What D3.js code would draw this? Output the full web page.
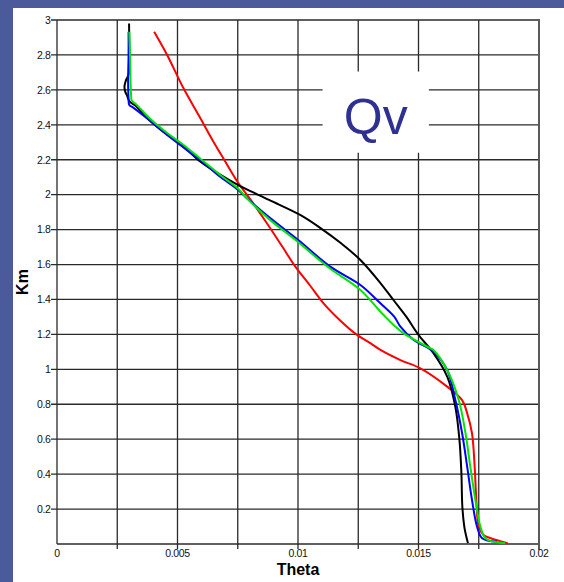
<!DOCTYPE html>
<html><head><meta charset="utf-8">
<script src="https://cdn.jsdelivr.net/npm/d3@7"></script>
<style>html,body{margin:0;padding:0;background:#4b5a9a;}svg{display:block;}</style>
</head><body>
<script>
// ---- data ----
const xTicks = [0, 0.005, 0.01, 0.015, 0.02];
const xTickLabels = ["0", "0.005", "0.01", "0.015", "0.02"];
const yTicks = [0.2,0.4,0.6,0.8,1,1.2,1.4,1.6,1.8,2,2.2,2.4,2.6,2.8,3];
const yTickLabels = ["0.2","0.4","0.6","0.8","1","1.2","1.4","1.6","1.8","2","2.2","2.4","2.6","2.8","3"];
const xGrid = [0,0.0025,0.005,0.0075,0.01,0.0125,0.015,0.0175,0.02];

const blackKm = [2.98,2.85,2.70,2.65,2.62,2.59,2.57,2.535,2.51,2.43,2.35,2.275,2.19,2.12,2.055,1.97,1.884,1.81,1.72,1.626,1.494,1.397,1.30,1.197,1.093,0.956,0.784,0.595,0.406,0.212,0.10,0.063,0.005];
const blackV  = [0.00299,0.0030,0.0030,0.00285,0.00280,0.00283,0.00290,0.0030,0.00325,0.0038,0.0045,0.00525,0.00594,0.0067,0.00752,0.0088,0.01009,0.01092,0.0118,0.01259,0.01342,0.01396,0.0145,0.0150,0.01562,0.0162,0.01653,0.0167,0.01678,0.01682,0.0169,0.01695,0.01705];

const blueKm = [2.933,2.80,2.65,2.55,2.513,2.50,2.43,2.35,2.284,2.198,2.11,2.027,1.979,1.86,1.740,1.588,1.483,1.378,1.30,1.244,1.168,1.101,0.996,0.824,0.634,0.443,0.252,0.099,0.033,0.013];
const blueV  = [0.00297,0.00297,0.00295,0.00297,0.00300,0.00315,0.0038,0.0045,0.00511,0.00594,0.0067,0.00752,0.00788,0.0089,0.01001,0.01134,0.01259,0.01342,0.0140,0.01425,0.0148,0.01562,0.01619,0.01653,0.01681,0.01702,0.01722,0.01743,0.01764,0.01826];

const greenKm = [2.933,2.80,2.65,2.56,2.54,2.515,2.43,2.35,2.29,2.20,2.11,2.03,1.979,1.86,1.74,1.58,1.454,1.33,1.25,1.206,1.12,1.111,0.996,0.824,0.634,0.443,0.252,0.099,0.03,0.004];
const greenV  = [0.00300,0.00303,0.00305,0.00308,0.00310,0.0033,0.0039,0.0046,0.0052,0.0060,0.0068,0.00755,0.00788,0.0088,0.0099,0.0113,0.01259,0.01342,0.0140,0.01438,0.0155,0.01562,0.01619,0.01667,0.01695,0.01715,0.01736,0.01757,0.0178,0.0186];

const redKm = [2.933,2.80,2.609,2.45,2.313,2.19,2.065,1.96,1.836,1.70,1.588,1.48,1.378,1.28,1.197,1.15,1.111,1.053,1.006,0.901,0.824,0.748,0.634,0.443,0.252,0.099,0.052,0.033,0.004];
const redV  = [0.00403,0.00457,0.00525,0.0059,0.00645,0.00698,0.00753,0.00809,0.00871,0.00936,0.00989,0.0105,0.01106,0.01175,0.01245,0.0130,0.01342,0.01425,0.01508,0.01619,0.01681,0.01702,0.01722,0.01733,0.0174,0.0175,0.0177,0.0180,0.0187];

const seriesNames = ["black","blue","green","red"];
const seriesColors = ["#000000","#0000ff","#00e600","#ff0000"];
const seriesV = [blackV, blueV, greenV, redV];
const seriesKm = [blackKm, blueKm, greenKm, redKm];

const label = "Qv";
const xTitle = "Theta";
const yTitle = "Km";

// ---- chart ----
const W = 564, H = 582;
const svg = d3.select("body").append("svg").attr("width", W).attr("height", H);
svg.append("rect").attr("width", W).attr("height", H).attr("fill", "#4b5a9a");
svg.append("rect").attr("x", 13).attr("y", 8).attr("width", W - 13).attr("height", H - 8).attr("fill", "#ffffff");

const x = d3.scaleLinear().domain([0, 0.02]).range([57, 539]);
const y = d3.scaleLinear().domain([0, 3]).range([544, 20]);
const font = "'Liberation Sans', Arial, sans-serif";

const grid = svg.append("g");
grid.selectAll("line.v").data(xGrid.slice(0, -1)).join("line")
  .attr("x1", d => x(d)).attr("x2", d => x(d))
  .attr("y1", y(3)).attr("y2", d => d === 0 ? y(0) : y(0) + 5)
  .attr("stroke", "#2a2a2a").attr("stroke-width", 1.3);
grid.selectAll("line.h").data(yTicks).join("line")
  .attr("x1", x(0) - 6).attr("x2", x(0.02))
  .attr("y1", d => y(d)).attr("y2", d => y(d))
  .attr("stroke", "#2a2a2a").attr("stroke-width", 1.3);
grid.append("line").attr("x1", x(0)).attr("x2", x(0.02)).attr("y1", y(0)).attr("y2", y(0))
  .attr("stroke", "#2a2a2a").attr("stroke-width", 1.3);
grid.append("line").attr("x1", x(0.02)).attr("x2", x(0.02)).attr("y1", y(3) - 1).attr("y2", y(0) + 6)
  .attr("stroke", "#5a5a5a").attr("stroke-width", 2);

const boxX0 = 0.01102, boxX1 = 0.01543, boxY0 = 2.705, boxY1 = 2.24;
svg.append("rect").attr("x", x(boxX0)).attr("y", y(boxY0))
  .attr("width", x(boxX1) - x(boxX0)).attr("height", y(boxY1) - y(boxY0)).attr("fill", "#ffffff");
svg.append("text").attr("x", x((boxX0 + boxX1) / 2)).attr("y", y(2.35))
  .attr("text-anchor", "middle").attr("font-family", font).attr("font-size", 50)
  .attr("fill", "#2e3192").text(label);

svg.append("g").selectAll("text").data(xTicks).join("text")
  .attr("x", d => x(d)).attr("y", 557).attr("text-anchor", "middle")
  .attr("font-family", font).attr("font-size", 10.5).attr("letter-spacing", -0.4).attr("fill", "#111")
  .text((d, i) => xTickLabels[i]);
svg.append("g").selectAll("text").data(yTicks).join("text")
  .attr("x", 50.5).attr("y", d => y(d) + 3.8).attr("text-anchor", "end")
  .attr("font-family", font).attr("font-size", 10.5).attr("letter-spacing", -0.4).attr("fill", "#111")
  .text((d, i) => yTickLabels[i]);

svg.append("text").attr("x", x(0.01)).attr("y", 575).attr("text-anchor", "middle")
  .attr("font-family", font).attr("font-weight", "bold").attr("font-size", 16).attr("fill", "#000").text(xTitle);
svg.append("text").attr("transform", `translate(28,${y(1.5)}) rotate(-90)`).attr("text-anchor", "middle")
  .attr("font-family", font).attr("font-weight", "bold").attr("font-size", 16).attr("fill", "#000").text(yTitle);

const line = d3.line().x(d => x(d[0])).y(d => y(d[1])).curve(d3.curveCatmullRom.alpha(0.5));
const order = [3, 0, 1, 2];
order.forEach(i => {
  const pts = seriesV[i].map((v, j) => [v, seriesKm[i][j]]);
  svg.append("path").datum(pts).attr("d", line)
    .attr("fill", "none").attr("stroke", seriesColors[i]).attr("stroke-width", 2)
    .attr("stroke-linejoin", "round").attr("class", seriesNames[i]);
});
</script>
</body></html>
